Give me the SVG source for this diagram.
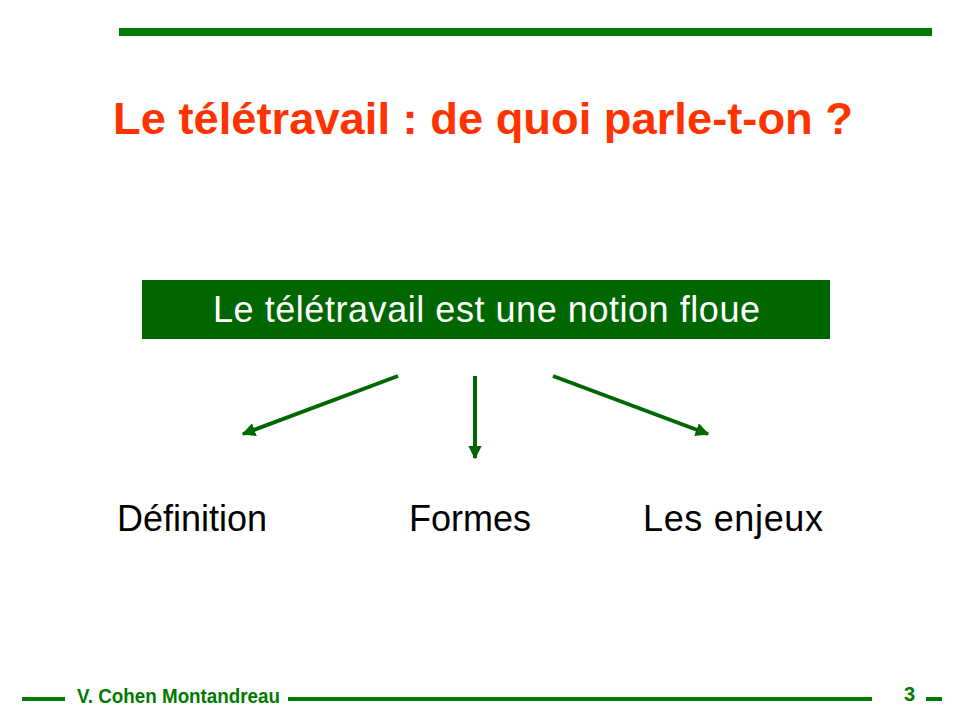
<svg xmlns="http://www.w3.org/2000/svg" width="960" height="720" viewBox="0 0 960 720">
<defs>
<style>
.bar{fill:#007A00}
.title{font-family:"Liberation Sans",Arial,sans-serif;font-weight:bold;font-size:45px;fill:#FF3300}
.boxtext{font-family:"Liberation Sans",Arial,sans-serif;font-size:36px;fill:#FFFFFF}
.label{font-family:"Liberation Sans",Arial,sans-serif;font-size:36px;fill:#000000}
.foot{font-family:"Liberation Sans",Arial,sans-serif;font-weight:bold;font-size:20px;fill:#007A00}
.conn{stroke:#006600;stroke-width:4;fill:none}
</style>
<marker id="ah" viewBox="0 0 10 10" refX="9" refY="5" markerWidth="3.4" markerHeight="3.4" orient="auto" markerUnits="strokeWidth">
<path d="M0,0 L10,5 L0,10 z" fill="#006600"/>
</marker>
</defs>
<rect width="960" height="720" fill="#FFFFFF"/>
<rect class="bar" x="119" y="28" width="813" height="8"/>
<g id="title">
<text class="title" x="113" y="134" textLength="740" lengthAdjust="spacingAndGlyphs">Le télétravail : de quoi parle-t-on ?</text>
</g>
<g id="node-main">
<rect x="142" y="280" width="688" height="59" fill="#006600"/>
<text class="boxtext" x="213" y="322" textLength="547" lengthAdjust="spacing">Le télétravail est une notion floue</text>
</g>
<g id="connectors">
<line class="conn" x1="398" y1="376" x2="243" y2="434" marker-end="url(#ah)"/>
<line class="conn" x1="475" y1="376" x2="475" y2="458" marker-end="url(#ah)"/>
<line class="conn" x1="553" y1="376" x2="708" y2="434" marker-end="url(#ah)"/>
</g>
<g id="node-definition">
<text class="label" x="117" y="531">Définition</text>
</g>
<g id="node-formes">
<text class="label" x="409" y="531">Formes</text>
</g>
<g id="node-enjeux">
<text class="label" x="643" y="531" textLength="180" lengthAdjust="spacing">Les enjeux</text>
</g>
<g id="footer">
<rect class="bar" x="22" y="697" width="43" height="4"/>
<text class="foot" x="77" y="703" textLength="203" lengthAdjust="spacingAndGlyphs">V. Cohen Montandreau</text>
<rect class="bar" x="288" y="697" width="584" height="4"/>
<text class="foot" x="904" y="701">3</text>
<rect class="bar" x="926" y="697" width="16" height="4"/>
</g>
</svg>
